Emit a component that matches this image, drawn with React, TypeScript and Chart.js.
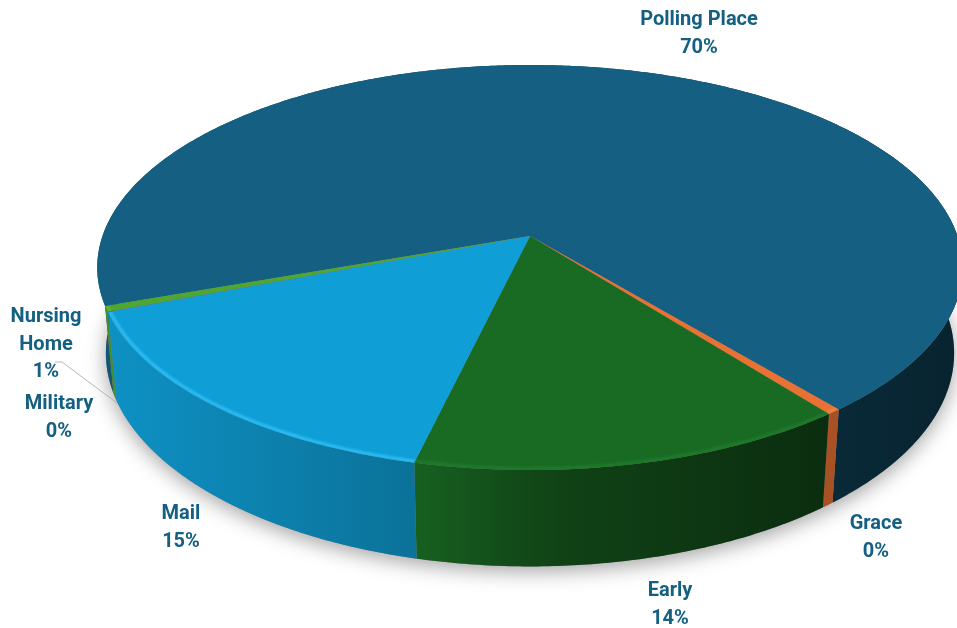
import React, { useEffect, useRef } from "react";
import { Chart, registerables } from "chart.js";

Chart.register(...registerables);

const categories = ["Polling Place", "Grace", "Early", "Mail", "Military", "Nursing Home"];
const shares = [69.5, 0.45, 14.2, 15.4, 0.02, 0.45];
const shareLabels = ["70%", "0%", "14%", "15%", "0%", "1%"];
const faceColors = ["#156082", "#E97132", "#196B24", "#0F9ED5", "#A02B93", "#4EA72E"];
const rimColors = ["", "#f08040", "#1f7a2b", "#2cbcf5", "", "#5cb83a"];

// wall shading: [fraction across slice width, brightness]
const wallShades: [number, number][][] = [
  [[0, 0.9], [0.1, 0.86], [0.84, 0.44], [1, 0.36]],
  [[0, 0.72], [1, 0.72]],
  [[0, 0.9], [0.35, 0.62], [1, 0.42]],
  [[0, 0.92], [1, 0.72]],
  [[0, 0.8], [1, 0.8]],
  [[0, 0.85], [1, 0.85]],
];

const labelLines: string[][] = [["Polling Place"], ["Grace"], ["Early"], ["Mail"], ["Military"], ["Nursing", "Home"]];
const labelAnchors = [
  { x: 699, y: 20 },
  { x: 876, y: 524 },
  { x: 670, y: 591 },
  { x: 181, y: 514 },
  { x: 59, y: 404 },
  { x: 46, y: 317 },
];

const PIE = { cx: 530, cy: 236, a: 427.5, b: 197.6, k: -0.1556 };
const WALL = { sx: 0.98, ex: 0, sy: 1.053, dy: 84 };
const LINE_H = 27.5;

function top(theta: number, r = 1) {
  const u = Math.cos(theta) * r;
  const v = Math.sin(theta) * r;
  const w = 1 + PIE.k * v;
  return { x: PIE.cx + (PIE.a * u) / w, y: PIE.cy + (PIE.b * v) / w };
}
function bottom(theta: number) {
  const p = top(theta);
  return {
    x: PIE.cx + WALL.sx * (p.x - PIE.cx) + WALL.ex,
    y: PIE.cy + WALL.dy + WALL.sy * (p.y - PIE.cy),
  };
}
function shade(hex: string, f: number) {
  const n = parseInt(hex.slice(1), 16);
  const c = [(n >> 16) & 255, (n >> 8) & 255, n & 255].map((v) => Math.round(v * f));
  return `rgb(${c[0]},${c[1]},${c[2]})`;
}
function rim(start: number, end: number, fn: (t: number) => { x: number; y: number }) {
  const n = Math.max(2, Math.ceil(Math.abs(end - start) / 0.01));
  const pts = [];
  for (let i = 0; i <= n; i++) pts.push(fn(start + ((end - start) * i) / n));
  return pts;
}

const pie3d = {
  id: "pie3d",
  beforeDatasetDraw(chart: any) {
    const ctx: CanvasRenderingContext2D = chart.ctx;
    const arcs = chart.getDatasetMeta(0).data as any[];

    // soft shadow under the base
    ctx.save();
    ctx.shadowColor = "rgba(0,0,0,0.36)";
    ctx.shadowBlur = 20;
    ctx.shadowOffsetY = 5;
    ctx.fillStyle = "#888";
    ctx.beginPath();
    rim(0, Math.PI * 2, bottom).forEach((p, i) => (i ? ctx.lineTo(p.x, p.y) : ctx.moveTo(p.x, p.y)));
    ctx.closePath();
    ctx.fill();
    ctx.restore();

    // walls
    arcs.forEach((arc, i) => {
      const { startAngle: s, endAngle: e } = arc;
      const t = rim(s, e, top);
      const b = rim(s, e, bottom);
      const xs = [...t, ...b].map((p) => p.x);
      const x0 = Math.min(...xs);
      const x1 = Math.max(...xs);
      const g = ctx.createLinearGradient(x0, 0, x1 + 0.01, 0);
      wallShades[i].forEach(([pos, f]) => g.addColorStop(pos, shade(faceColors[i], f)));
      ctx.fillStyle = g;
      ctx.beginPath();
      t.forEach((p, j) => (j ? ctx.lineTo(p.x, p.y) : ctx.moveTo(p.x, p.y)));
      b.reverse().forEach((p) => ctx.lineTo(p.x, p.y));
      ctx.closePath();
      ctx.fill();
    });

    // top faces
    arcs.forEach((arc, i) => {
      const { startAngle: s, endAngle: e } = arc;
      ctx.fillStyle = faceColors[i];
      ctx.beginPath();
      ctx.moveTo(PIE.cx, PIE.cy);
      rim(s, e, top).forEach((p) => ctx.lineTo(p.x, p.y));
      ctx.closePath();
      ctx.fill();
      if (!rimColors[i]) return;
      ctx.save();
      ctx.clip();
      ctx.strokeStyle = rimColors[i];
      ctx.lineWidth = 3.5;
      ctx.filter = "blur(1.2px)";
      ctx.beginPath();
      rim(s, e, (t) => top(t, 0.995)).forEach((p, j) => (j ? ctx.lineTo(p.x, p.y) : ctx.moveTo(p.x, p.y)));
      ctx.stroke();
      ctx.restore();
    });
    return false;
  },
  afterDatasetsDraw(chart: any) {
    const ctx: CanvasRenderingContext2D = chart.ctx;
    // leader line
    ctx.strokeStyle = "#a6a6a6";
    ctx.lineWidth = 0.8;
    ctx.beginPath();
    ctx.moveTo(55, 362);
    ctx.lineTo(62, 362);
    ctx.lineTo(117, 403);
    ctx.stroke();

    ctx.fillStyle = "#156082";
    ctx.font = "bold 20px Roboto";
    ctx.textAlign = "center";
    ctx.textBaseline = "middle";
    categories.forEach((_, i) => {
      const lines = [...labelLines[i], shareLabels[i]];
      lines.forEach((t, j) => ctx.fillText(t, labelAnchors[i].x, labelAnchors[i].y + j * LINE_H));
    });
  },
};

export default function App() {
  const ref = useRef<HTMLCanvasElement>(null);
  useEffect(() => {
    const chart = new Chart(ref.current as HTMLCanvasElement, {
      type: "pie",
      data: {
        labels: categories,
        datasets: [{ data: shares, backgroundColor: faceColors, borderWidth: 0 }],
      },
      options: {
        animation: false,
        responsive: false,
        devicePixelRatio: 1,
        rotation: 250.4,
        plugins: { legend: { display: false }, tooltip: { enabled: false } },
      },
      plugins: [pie3d],
    } as any);
    return () => chart.destroy();
  }, []);
  return (
    <div style={{ position: "absolute", left: 0, top: 0, background: "#fff" }}>
      <canvas ref={ref} width={957} height={628} style={{ display: "block" }} />
    </div>
  );
}
